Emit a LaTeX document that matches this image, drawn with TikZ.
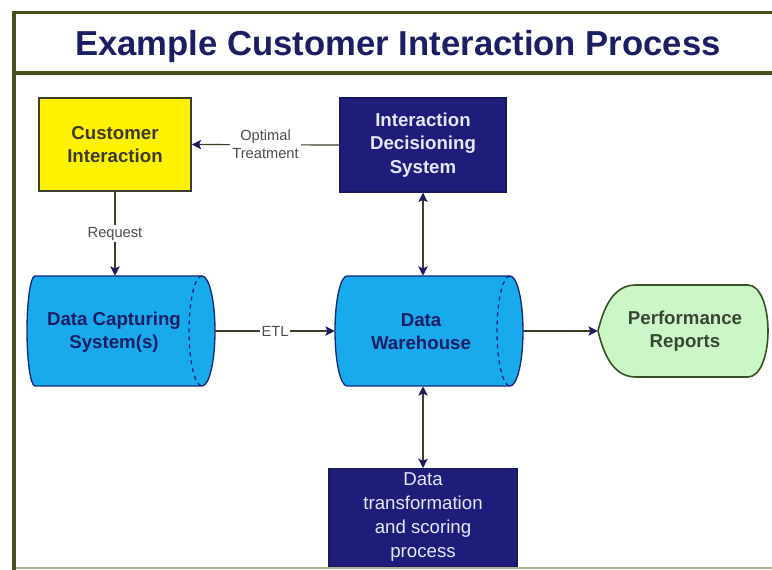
\documentclass[tikz,border=0pt]{standalone}
\usepackage{fontspec}
\setmainfont{Liberation Sans}
\usetikzlibrary{arrows.meta}

\definecolor{frameolive}{RGB}{72,78,30}
\definecolor{framelight}{RGB}{175,178,145}
\definecolor{titlenavy}{RGB}{28,30,100}
\definecolor{boxnavy}{RGB}{30,30,122}
\definecolor{drumblue}{RGB}{24,170,236}
\definecolor{drumedge}{RGB}{22,40,120}
\definecolor{reportgreen}{RGB}{204,246,200}
\definecolor{reporttext}{RGB}{58,70,52}
\definecolor{lineolive}{RGB}{62,62,40}
\definecolor{tipnavy}{RGB}{30,30,95}

\tikzset{
  lbltext/.style={font=\fontsize{14}{17.5}\selectfont\bfseries, align=center},
  yellowbox/.style={draw=lineolive, line width=1.2pt, fill=yellow, text=black!75!olive, lbltext},
  navybox/.style={draw=boxnavy!80!black, line width=1pt, fill=boxnavy, text=white!90!blue, lbltext},
  area/.style={inner sep=0pt, minimum width=141pt, minimum height=82.5pt},
  tip/.style={Stealth[length=7pt,width=7pt,inset=1.5pt,color=tipnavy]},
  conn/.style={draw=lineolive, line width=0.9pt, -{Stealth[length=7pt,width=7pt,inset=1.5pt,color=tipnavy]}},
  both/.style={conn, {Stealth[length=7pt,width=7pt,inset=1.5pt,color=tipnavy]}-{Stealth[length=7pt,width=7pt,inset=1.5pt,color=tipnavy]}},
  tag/.style={fill=white, inner sep=1.5pt, text=black!70, font=\fontsize{11}{13.5}\selectfont, align=center}
}

\begin{document}
\begin{tikzpicture}[x=0.75pt, y=-0.75pt]
      \useasboundingbox (0,0) rectangle (772,570);
      \fill [white] (0,0) rectangle (772,570);

      % frame and title band
      \draw [frameolive, line width=2.25pt] (12,13) -- (772,13);
      \draw [frameolive, line width=3pt] (12,73) -- (772,73);
      \draw [framelight, line width=1.5pt] (12,568) -- (772,568);
      \draw [frameolive, line width=3pt] (13.5,11.5) -- (13.5,570);
      \node (title) at (398,47) {\fontsize{26}{30}\selectfont\bfseries\color{titlenavy}Example Customer Interaction Process};

      % boxes
      \node [yellowbox, minimum width=114pt, minimum height=69.75pt] (ci) at (115,144.5) {Customer\\Interaction};
      \node [navybox, minimum width=124.5pt, minimum height=70.5pt] (ids) at (423,145) {Interaction\\Decisioning\\System};
      \node [navybox, minimum width=141pt, minimum height=71.25pt, font=\fontsize{14}{18}\selectfont\mdseries] (dt) at (423,517.5) {Data\\transformation\\and scoring\\process};

      % drums
      \draw [fill=drumblue, draw=drumedge, line width=1pt]
        (35,276) -- (202,276) .. controls (209.2,276) and (215,300.6) .. (215,331)
        .. controls (215,361.4) and (209.2,386) .. (202,386) -- (35,386)
        .. controls (30.6,386) and (27,361.4) .. (27,331)
        .. controls (27,300.6) and (30.6,276) .. (35,276) -- cycle;
      \draw [draw=drumedge, line width=1pt, dashed] (202,276) .. controls (194.8,276) and (189,300.6) .. (189,331)
        .. controls (189,361.4) and (194.8,386) .. (202,386);
      \node [area] (dcs) at (121,331) {};
      \node [lbltext, text=titlenavy] (dcstext) at (114,332) {Data Capturing\\System(s)};

      \draw [fill=drumblue, draw=drumedge, line width=1pt]
        (347,276) -- (510,276) .. controls (517.2,276) and (523,300.6) .. (523,331)
        .. controls (523,361.4) and (517.2,386) .. (510,386) -- (347,386)
        .. controls (340.4,386) and (335,361.4) .. (335,331)
        .. controls (335,300.6) and (340.4,276) .. (347,276) -- cycle;
      \draw [draw=drumedge, line width=1pt, dashed] (510,276) .. controls (502.8,276) and (497,300.6) .. (497,331)
        .. controls (497,361.4) and (502.8,386) .. (510,386);
      \node [area] (dw) at (429,331) {};
      \node [lbltext, text=titlenavy] (dwtext) at (421,332) {Data\\Warehouse};

      % report shape
      \draw [fill=reportgreen, draw=lineolive!90!green, line width=1.2pt]
        (598,331) .. controls (605,302) and (616,285) .. (636,285) -- (748,285)
        .. controls (760,285) and (768,306) .. (768,331)
        .. controls (768,356) and (760,377) .. (748,377) -- (636,377)
        .. controls (616,377) and (605,360) .. (598,331) -- cycle;
      \node [inner sep=0pt, minimum width=127.5pt, minimum height=69pt] (pr) at (683,331) {};
      \node [lbltext, text=reporttext] (prtext) at (685,331) {Performance\\Reports};

      % connectors
      \draw [conn] (ids.west) -- node [tag] {Optimal\\Treatment} (ci.east);
      \draw [conn] (ci.south) -- node [tag] {Request} (ci.south |- dcs.north);
      \draw [conn] (dcs.east) -- node [tag] {ETL} (dw.west);
      \draw [conn] (dw.east) -- (pr.west);
      \draw [both] (ids.south) -- (ids.south |- dw.north);
      \draw [both] (dt.north) -- (dt.north |- dw.south);

    \end{tikzpicture}
\end{document}
